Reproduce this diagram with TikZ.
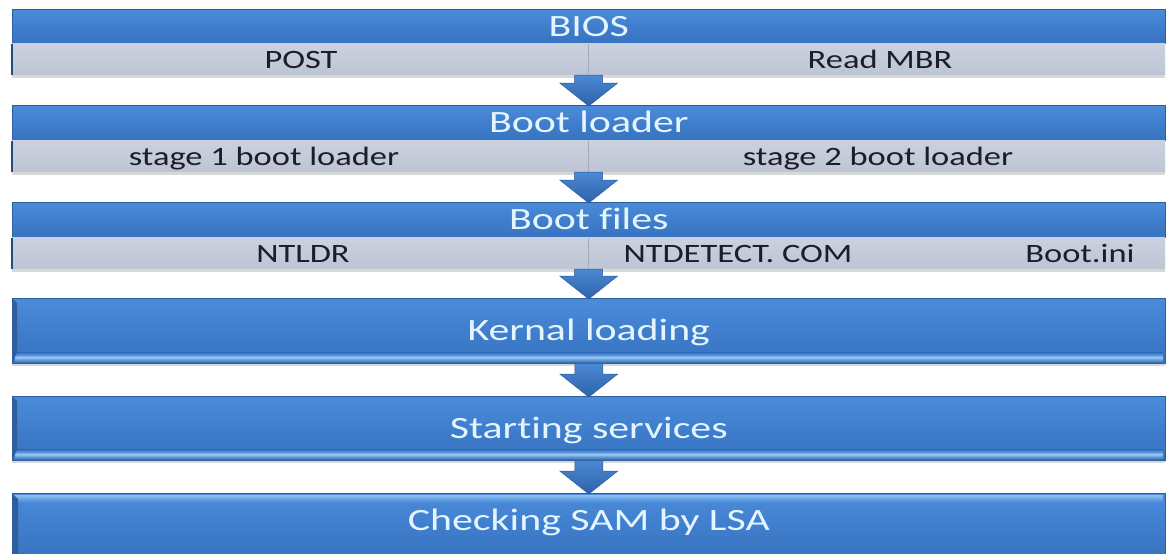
\documentclass[tikz,border=0pt]{standalone}
\usepackage{fontspec}
\setmainfont{Carlito}[FakeStretch=1.3, Ligatures=NoCommon]
\newfontfamily\barfont{Carlito}[FakeStretch=1.35, Ligatures=NoCommon]
\usetikzlibrary{calc,shadows}
\definecolor{bartop}{HTML}{4A8BDA}
\definecolor{barbot}{HTML}{3672C0}
\definecolor{baredge}{HTML}{2F5E9C}
\definecolor{hilite}{HTML}{8CC2F4}
\definecolor{rowgray}{HTML}{CBD1DE}
\definecolor{rowgraybot}{HTML}{BDC4D4}
\definecolor{divgray}{HTML}{A4ABBC}
\definecolor{titletext}{HTML}{E4F5FF}
\definecolor{rowtext}{HTML}{1C1C2A}
\definecolor{arrtop}{HTML}{4B88D4}
\definecolor{arrbot}{HTML}{2E62A8}
\newcommand\flowarr[2]{%
  \path[flow] let \p1=(#1.south), \p2=(#2.north) in
    ({\x1-14pt},{\y1}) -- ({\x1+14pt},{\y1}) -- ({\x1+14pt},{\y2+22pt}) --
    ({\x1+29pt},{\y2+22pt}) -- ({\x1},{\y2-1pt}) -- ({\x1-29pt},{\y2+22pt}) --
    ({\x1-14pt},{\y2+22pt}) -- cycle;}
\newcommand\barshine[2]{%
  \shade[top color=barbot, bottom color=hilite]
    ($(#1.south west)+(3,-11)$) rectangle ($(#1.south east)+(-3,-6)$);
  \shade[top color=hilite, bottom color=barbot!90!black]
    ($(#1.south west)+(3,-6)$) rectangle ($(#1.south east)+(-3,-1)$);
  \fill[baredge] (#1.north west) -- ++(5,5) -- ($(#1.south west)+(5,-11)$) -- (#1.south west) -- cycle;}
\begin{document}
\begin{tikzpicture}[x=1pt,y=-1pt,
  title/.style={rectangle, anchor=north west, minimum width=1153pt, inner sep=0pt,
    top color=bartop, bottom color=barbot, draw=baredge, line width=0.6pt,
    text=titletext, font=\barfont\fontsize{31}{36}\selectfont, text height=20pt, text depth=0pt},
  fullbar/.style={title, drop shadow={shadow xshift=0pt, shadow yshift=-3pt, opacity=0.3}},
  row/.style={rectangle, anchor=north west, minimum width=1153pt, minimum height=31pt,
    inner sep=0pt, top color=rowgray, bottom color=rowgraybot,
    drop shadow={shadow xshift=0pt, shadow yshift=-3pt, opacity=0.3}},
  rowlabel/.style={text=rowtext, font=\fontsize{26.5}{32}\selectfont, inner sep=0pt,
    text height=18pt, text depth=0pt},
  bartext/.style={text=titletext, font=\barfont\fontsize{31}{36}\selectfont, text height=20pt,
    text depth=0pt, inner sep=0pt},
  divider/.style={draw=divgray, line width=0.8pt},
  edge/.style={draw=baredge!80!black, line width=1.2pt},
  flow/.style={top color=arrtop, bottom color=arrbot, draw=baredge, line width=0.5pt}
]
\useasboundingbox[fill=white] (0,0) rectangle (1170,554);

% BIOS
\node[title, minimum height=34pt] (bios) at (12,9) {BIOS};
\node[row] (biosrow) at (bios.south west) {};
\draw[edge] (biosrow.north west) -- (biosrow.south west);
\draw[divider] (biosrow.north) -- (biosrow.south);
\node[rowlabel] (post) at ($(biosrow.west)+(289,0)$) {POST};
\node[rowlabel] (mbr) at ($(biosrow.west)+(868,0)$) {Read MBR};

% Boot loader
\node[title, minimum height=35pt] (boot) at (12,105) {Boot loader};
\node[row] (bootrow) at (boot.south west) {};
\draw[edge] (bootrow.north west) -- (bootrow.south west);
\draw[divider] (bootrow.north) -- (bootrow.south);
\node[rowlabel] (stage1) at ($(bootrow.west)+(252,0)$) {stage 1 boot loader};
\node[rowlabel] (stage2) at ($(bootrow.west)+(866,0)$) {stage 2 boot loader};

% Boot files
\node[title, minimum height=35pt] (files) at (12,202) {Boot files};
\node[row] (filesrow) at (files.south west) {};
\draw[edge] (filesrow.north west) -- (filesrow.south west);
\draw[divider] (filesrow.north) -- (filesrow.south);
\node[rowlabel] (ntldr) at ($(filesrow.west)+(291,0)$) {NTLDR};
\node[rowlabel] (ntdetect) at ($(filesrow.west)+(726,0)$) {NTDETECT. COM};
\node[rowlabel] (bootini) at ($(filesrow.west)+(1068,0)$) {Boot.ini};

% Full bars
\node[fullbar, minimum height=65pt] (kernel) at (12,298) {};
\barshine{kernel}{}
\node[bartext] (kerneltext) at (kernel.center) {Kernal loading};

\node[fullbar, minimum height=64pt] (services) at (12,396) {};
\barshine{services}{}
\node[bartext] (servicestext) at (services.center) {Starting services};

\node[fullbar, minimum height=66pt] (sam) at (12,493) {};
\shade[top color=hilite, bottom color=bartop] ($(sam.north west)+(3,2)$) rectangle ($(sam.north east)+(-3,9)$);
\fill[baredge] (sam.north west) -- ++(6,6) -- ($(sam.south west)+(6,0)$) -- (sam.south west) -- cycle;
\node[bartext] (samtext) at ($(sam.center)+(0,-6)$) {Checking SAM by LSA};

% Arrows
\flowarr{biosrow}{boot}
\flowarr{bootrow}{files}
\flowarr{filesrow}{kernel}
\flowarr{kernel}{services}
\flowarr{services}{sam}
\end{tikzpicture}
\end{document}
